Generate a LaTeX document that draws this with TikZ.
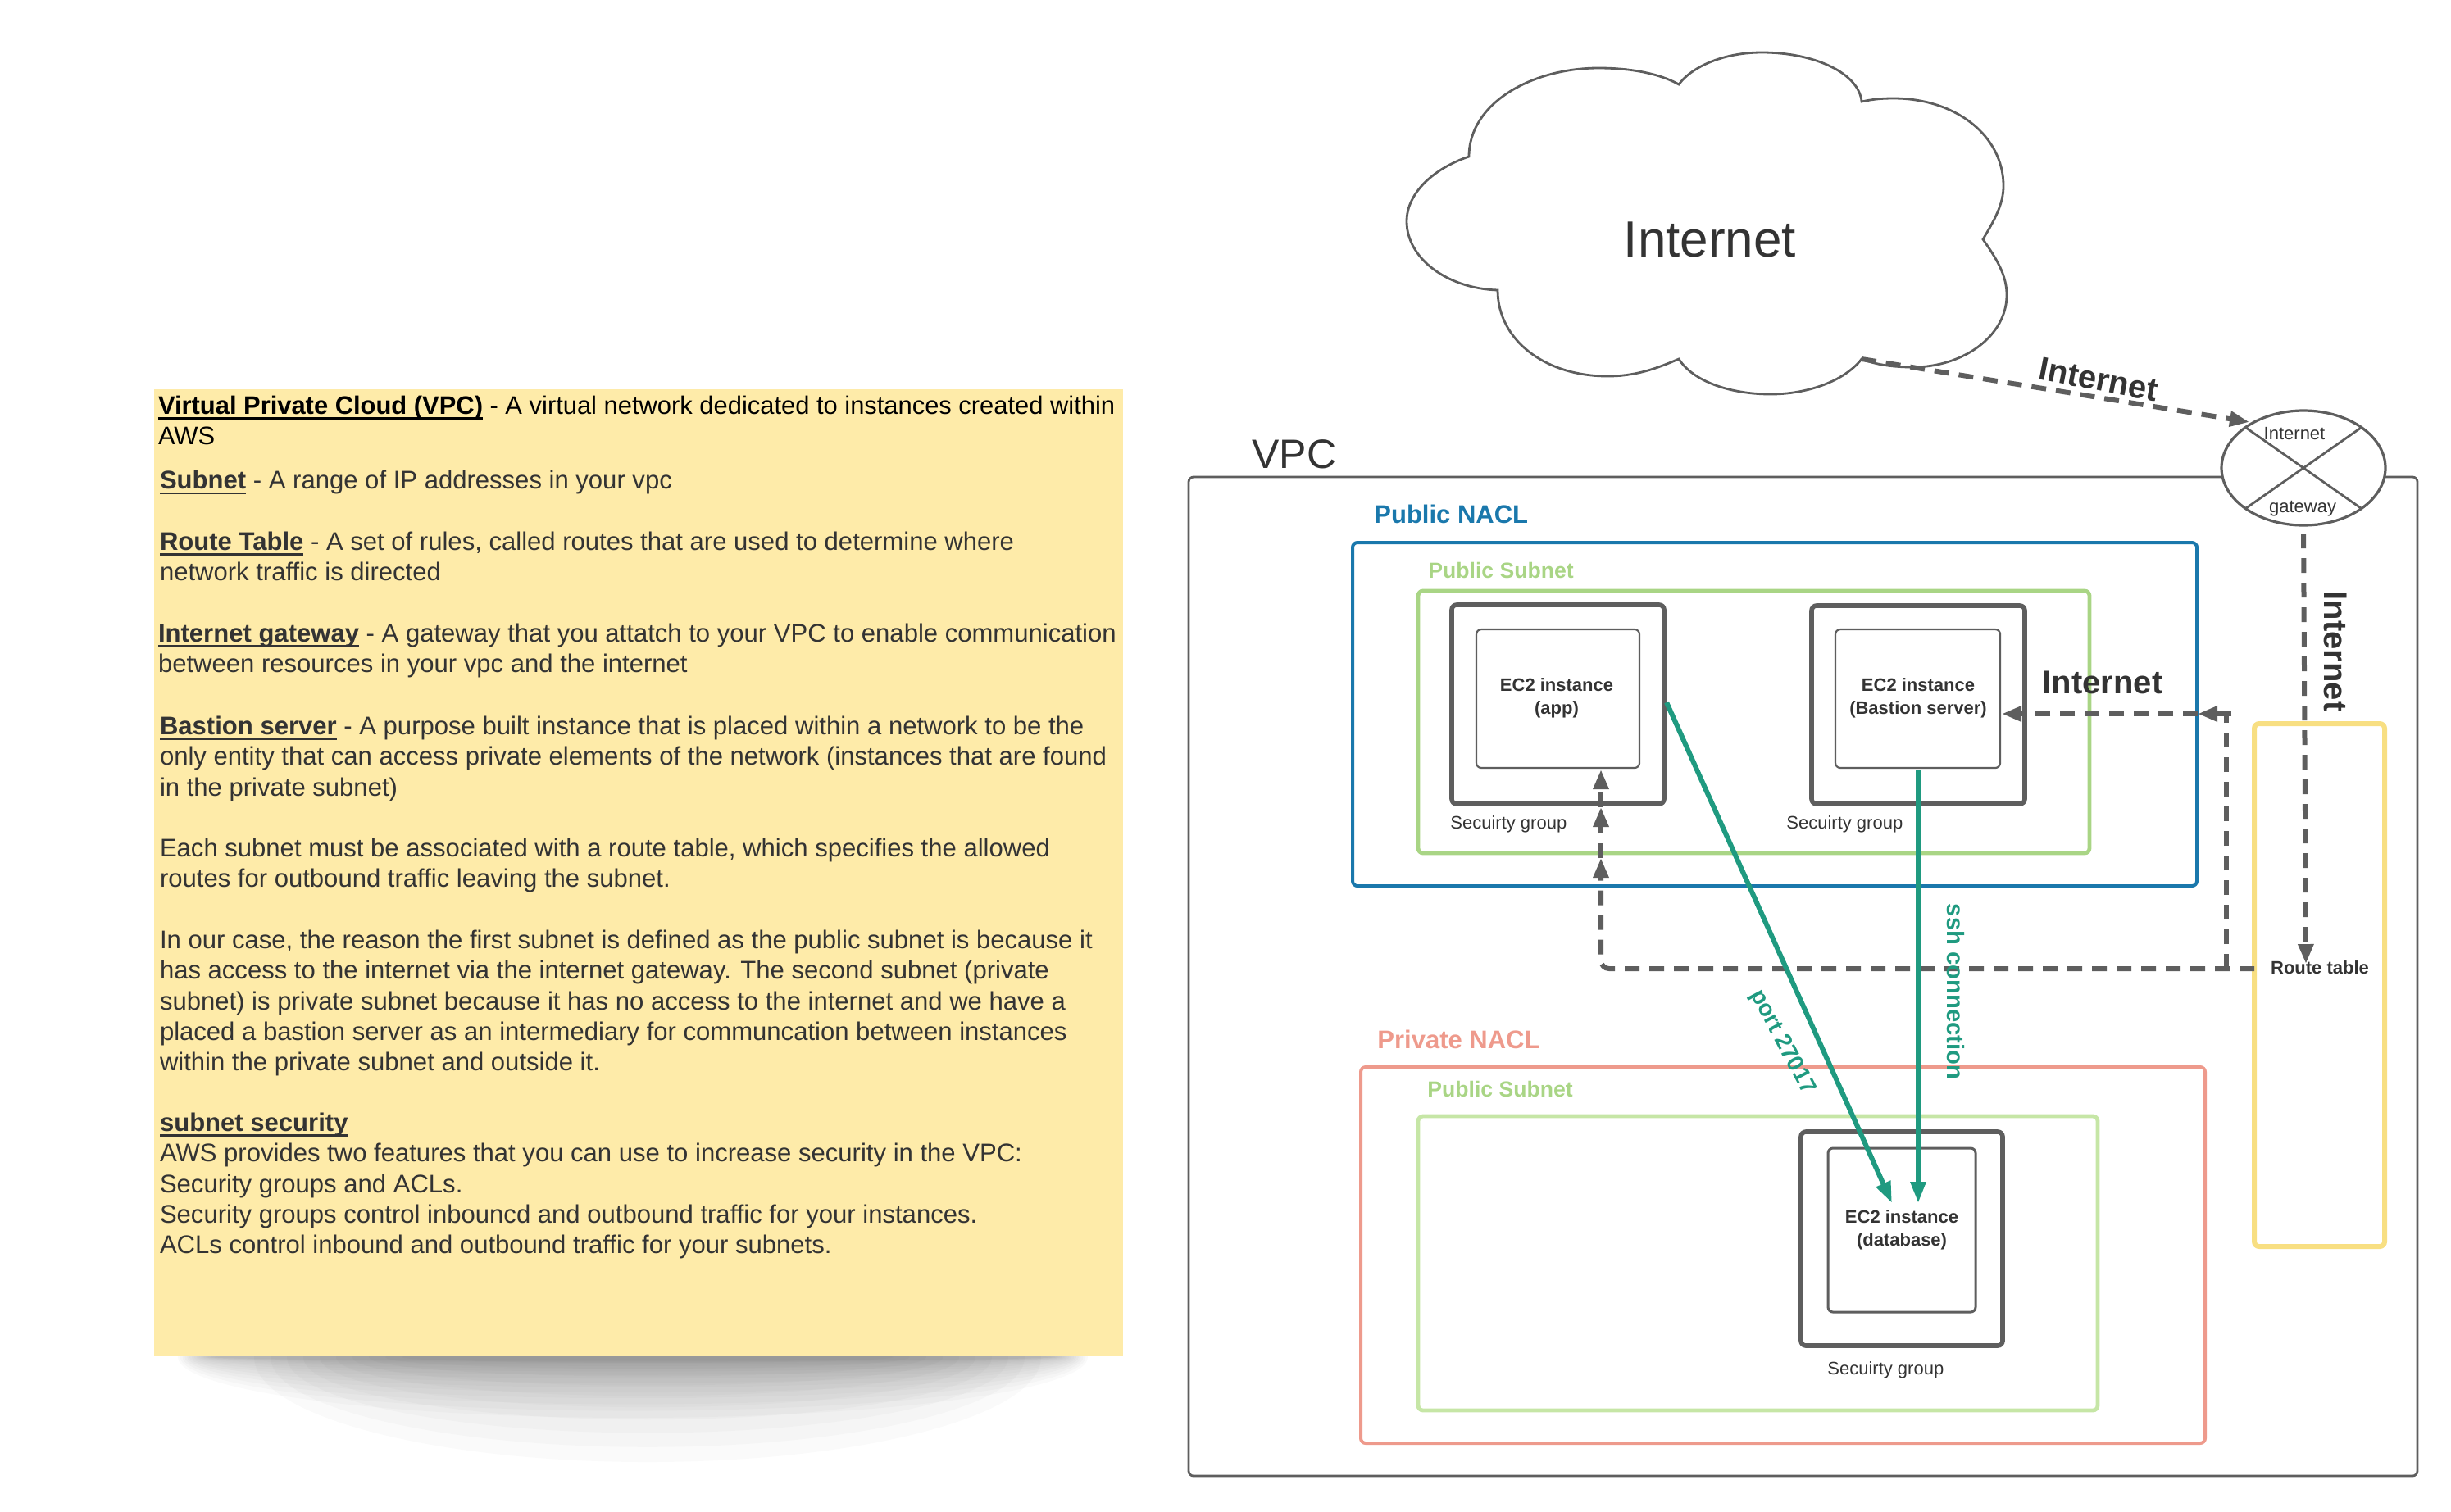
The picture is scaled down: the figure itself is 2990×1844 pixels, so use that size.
\documentclass[tikz,border=0pt]{standalone}
\usepackage{fontspec}
\setmainfont{Liberation Sans}
\usetikzlibrary{arrows.meta,shapes.geometric,calc}
\definecolor{ink}{HTML}{333333}
\definecolor{edge}{HTML}{5E5E5E}
\definecolor{noteyellow}{HTML}{FEEBA9}
\definecolor{naclblue}{HTML}{1A78AC}
\definecolor{subgreen}{HTML}{A9D585}
\definecolor{subgreenlight}{HTML}{C6E6A6}
\definecolor{naclred}{HTML}{EE9A8C}
\definecolor{rtyellow}{HTML}{F8DF82}
\definecolor{teal}{HTML}{1F9A80}
\newcommand{\fsz}[2]{\fontsize{#1pt}{#2pt}\selectfont}
\newcommand{\pbox}[7][]{\node[#2,minimum width={(#6-#4)*0.5pt},minimum height={(#7-#5)*0.5pt},#1] (#3) at ({(#4+#6)/2},{(#5+#7)/2}) {};}
\newlength{\ulwidth}
\newcommand{\ulb}[1]{\settowidth{\ulwidth}{\textbf{#1}}\rlap{\textbf{#1}}\rule[-3.3pt]{\ulwidth}{1.3pt}}
\tikzset{
  x=0.5pt,y=-0.5pt,
  framebox/.style={draw,rectangle,rounded corners=3pt,inner sep=0pt,outer sep=0pt},
  vpcbox/.style={framebox,draw=edge,line width=1.4pt},
  pubnacl/.style={framebox,draw=naclblue,line width=2pt},
  pubsub/.style={framebox,draw=subgreen,line width=2.4pt},
  privnacl/.style={framebox,draw=naclred,line width=2pt},
  privsub/.style={framebox,draw=subgreenlight,line width=2.4pt},
  sgbox/.style={framebox,draw=edge,line width=2.8pt},
  ec2box/.style={framebox,draw=edge,line width=1.1pt},
  dbbox/.style={framebox,draw=edge,line width=1.5pt},
  rtbox/.style={framebox,draw=rtyellow,line width=3pt},
  note/.style={anchor=north west,inner sep=0pt,outer sep=0pt,align=left,text=ink,font=\fsz{15.53}{18.7}},
  ec2text/.style={align=center,text=ink,inner sep=0pt,font=\bfseries\fsz{11}{14}},
  sgtext/.style={text=ink,inner sep=0pt,anchor=west,font=\fsz{11}{14}},
  bigbold/.style={text=ink,inner sep=0pt,font=\bfseries\fsz{20}{24}},
  greenlab/.style={text=teal,inner sep=0pt,font=\bfseries\fsz{14}{17}},
  dashline/.style={draw=edge,line width=3pt,dash pattern=on 9pt off 6pt},
  dashtip/.style={dashline,-{Triangle[length=12pt,width=9pt]}},
  greenline/.style={draw=teal,line width=3pt,-{Triangle[length=13pt,width=9pt]}},
}
\begin{document}
\begin{tikzpicture}
\useasboundingbox (0,0) rectangle (2990,1844);
% note shadow
\begin{scope}
\clip (170,1655) rectangle (1390,1844);
\foreach \k in {0,...,15}{
  \pgfmathsetmacro{\lev}{\k/16}
  \fill[black,opacity=.02] (772,1656) ellipse [x radius={555-45*\lev},y radius={70*(1-\lev)^2+4}];
}
\foreach \k in {0,...,9}{
  \pgfmathsetmacro{\lev}{\k/10}
  \fill[black,opacity=.018] (790,1656) ellipse [x radius={480-200*\lev},y radius={125*(1-\lev)^1.5+3}];
}
\end{scope}
% note
\fill[noteyellow] (188,475) rectangle (1370,1655);
\node[note,text=black,font=\fsz{15.45}{18.7}] (n1) at (193,479) {\strut\ulb{Virtual Private Cloud (VPC)} - A virtual network dedicated to instances created within\\\strut AWS};
\node[note] (n2) at (195,570.5) {\strut\ulb{Subnet} - A range of IP addresses in your vpc};
\node[note] (n3) at (195,645) {\strut\ulb{Route Table} - A set of rules, called routes that are used to determine where\\\strut network traffic is directed};
\node[note] (n4) at (193,757) {\strut\ulb{Internet gateway} - A gateway that you attatch to your VPC to enable communication\\\strut between resources in your vpc and the internet};
\node[note] (n5) at (195,870) {\strut\ulb{Bastion server} - A purpose built instance that is placed within a network to be the\\\strut only entity that can access private elements of the network (instances that are found\\\strut in the private subnet)};
\node[note] (n6) at (195,1019) {\strut Each subnet must be associated with a route table, which specifies the allowed\\\strut routes for outbound traffic leaving the subnet.};
\node[note] (n7) at (195,1131) {\strut In our case, the reason the first subnet is defined as the public subnet is because it\\\strut has access to the internet via the internet gateway. The second subnet (private\\\strut subnet) is private subnet because it has no access to the internet and we have a\\\strut placed a bastion server as an intermediary for communcation between instances\\\strut within the private subnet and outside it.};
\node[note] (n8) at (195,1354) {\strut\ulb{subnet security}\\\strut AWS provides two features that you can use to increase security in the VPC:\\\strut Security groups and ACLs.\\\strut Security groups control inbouncd and outbound traffic for your instances.\\\strut ACLs control inbound and outbound traffic for your subnets.};
% cloud
\draw[edge,line width=1.4pt,line join=miter]
 (1792,191) .. controls (1792,125) and (1870,83) .. (1950,83)
 .. controls (1990,83) and (2025,90) .. (2048,103)
 .. controls (2065,80) and (2105,64) .. (2149,64)
 .. controls (2215,64) and (2268,90) .. (2271,124)
 .. controls (2285,121) and (2295,120) .. (2310,120)
 .. controls (2385,120) and (2444,165) .. (2444,227)
 .. controls (2444,250) and (2432,270) .. (2419,292)
 .. controls (2435,315) and (2448,335) .. (2448,360)
 .. controls (2448,410) and (2395,448) .. (2333,448)
 .. controls (2310,448) and (2288,445) .. (2271,438)
 .. controls (2250,465) and (2205,481) .. (2160,481)
 .. controls (2110,481) and (2065,465) .. (2048,438)
 .. controls (2020,450) and (1995,459) .. (1961,459)
 .. controls (1885,459) and (1827,415) .. (1827,354)
 .. controls (1765,352) and (1716,315) .. (1716,270)
 .. controls (1716,235) and (1750,205) .. (1792,191) -- cycle;
\coordinate (cloudcusp) at (2271,438);
\node[text=ink,inner sep=0pt,font=\fsz{31}{36}] (cloudtext) at (2086,292) {Internet};
% frames
\pbox{vpcbox}{vpc}{1450}{582}{2949}{1801}
\node[text=ink,inner sep=0pt,font=\fsz{25}{30}] (vpclabel) at (1579,554) {VPC};
\pbox{pubnacl}{pubn}{1650}{662}{2680}{1081}
\node[text=naclblue,anchor=west,inner sep=0pt,font=\bfseries\fsz{15.5}{18}] (pubnlabel) at (1676,627) {Public NACL};
\pbox{pubsub}{pubs}{1730}{721}{2549}{1041}
\node[text=subgreen,anchor=west,inner sep=0pt,font=\bfseries\fsz{13.3}{16}] (pubslabel) at (1742,696) {Public Subnet};
\pbox{sgbox}{sgapp}{1771}{738}{2030}{981}
\pbox{ec2box}{app}{1801}{768}{2000}{937}
\node[ec2text] (apptext) at (1899,852) {EC2 instance\\(app)};
\node[sgtext] (sgapptext) at (1769,1006) {Secuirty group};
\pbox{sgbox}{sgbas}{2210}{739}{2470}{981}
\pbox{ec2box}{bas}{2239}{768}{2440}{937}
\node[ec2text] (bastext) at (2340,852) {EC2 instance\\(Bastion server)};
\node[sgtext] (sgbastext) at (2179,1006) {Secuirty group};
\pbox{privnacl}{prin}{1660}{1302}{2690}{1761}
\node[text=naclred,anchor=west,inner sep=0pt,font=\bfseries\fsz{15.5}{18}] (prinlabel) at (1680,1268) {Private NACL};
\pbox{privsub}{pris}{1730}{1362}{2559}{1721}
\node[text=subgreen,anchor=west,inner sep=0pt,font=\bfseries\fsz{13.3}{16}] (prislabel) at (1741,1329) {Public Subnet};
\pbox{sgbox}{sgdb}{2197}{1381}{2443}{1642}
\pbox{dbbox}{db}{2230}{1401}{2410}{1601}
\node[ec2text] (dbtext) at (2320,1501) {EC2 instance\\(database)};
\node[sgtext] (sgdbtext) at (2229,1672) {Secuirty group};
\pbox{rtbox}{rt}{2750}{883}{2909}{1521}
\node[text=ink,inner sep=0pt,font=\bfseries\fsz{11}{14}] (rtlabel) at (2830,1181) {Route table};
% gateway
\node[draw=edge,line width=1.6pt,fill=white,ellipse,minimum width=100pt,minimum height=70pt,inner sep=0pt,outer sep=0pt] (gw) at (2810,571) {};
\draw[edge,line width=1.4pt] (gw.35) -- (gw.215) (gw.145) -- (gw.325);
\node[text=ink,inner sep=0pt,font=\fsz{11}{14}] (gwt1) at (2799,529) {Internet};
\node[text=ink,inner sep=0pt,font=\fsz{11}{14}] (gwt2) at (2809,621) {gateway};
% junction coordinates
\coordinate (rtleft) at (2750,1182);
\coordinate (corner) at (1953,1182);
\coordinate (branch) at (2716,1182);
\coordinate (branchtop) at (2716,871);
\coordinate (nastub) at (2722,871);
\coordinate (natip) at (2681,871);
\coordinate (bastip) at (2442,871);
\coordinate (tip1) at (1953,1047);
\coordinate (tip2) at (1953,985);
\coordinate (tip3) at (1953,939);
\coordinate (rttip) at (2813,1176);
\coordinate (gwin) at (2744,515);
\coordinate (apptail) at (2033,857);
\coordinate (dbtipa) at (2308,1468);
\coordinate (dbtipb) at (2340,1468);
\coordinate (bastail) at (2340,939);
% dashed connectors
\draw[dashtip] (cloudcusp) -- (gwin);
\draw[dashtip,shorten <=5pt] (gw.south) -- (rttip);
\draw[dashtip,rounded corners=5pt] (rtleft) -- (corner) -- (tip1);
\draw[dashtip] (tip1) -- (tip2);
\draw[dashtip] (tip2) -- (tip3);
\draw[dashline] (branch) -- (branchtop);
\draw[dashtip] (nastub) -- (natip);
\draw[dashtip] (natip) -- (bastip);
% green connectors
\draw[greenline] (apptail) -- (dbtipa);
\draw[greenline] (bastail) -- (dbtipb);
% labels on connectors
\node[bigbold,rotate=-11] (lab1) at (2560,463) {Internet};
\node[bigbold] (lab2) at (2565,833) {Internet};
\node[bigbold,rotate=-90] (lab3) at (2849,795) {Internet};
\node[greenlab,font=\bfseries\fsz{14.6}{17},rotate=-90] (lab4) at (2386,1210) {ssh connection};
\node[greenlab,rotate=-62] (lab5) at (2174,1272) {port 27017};
\end{tikzpicture}
\end{document}
